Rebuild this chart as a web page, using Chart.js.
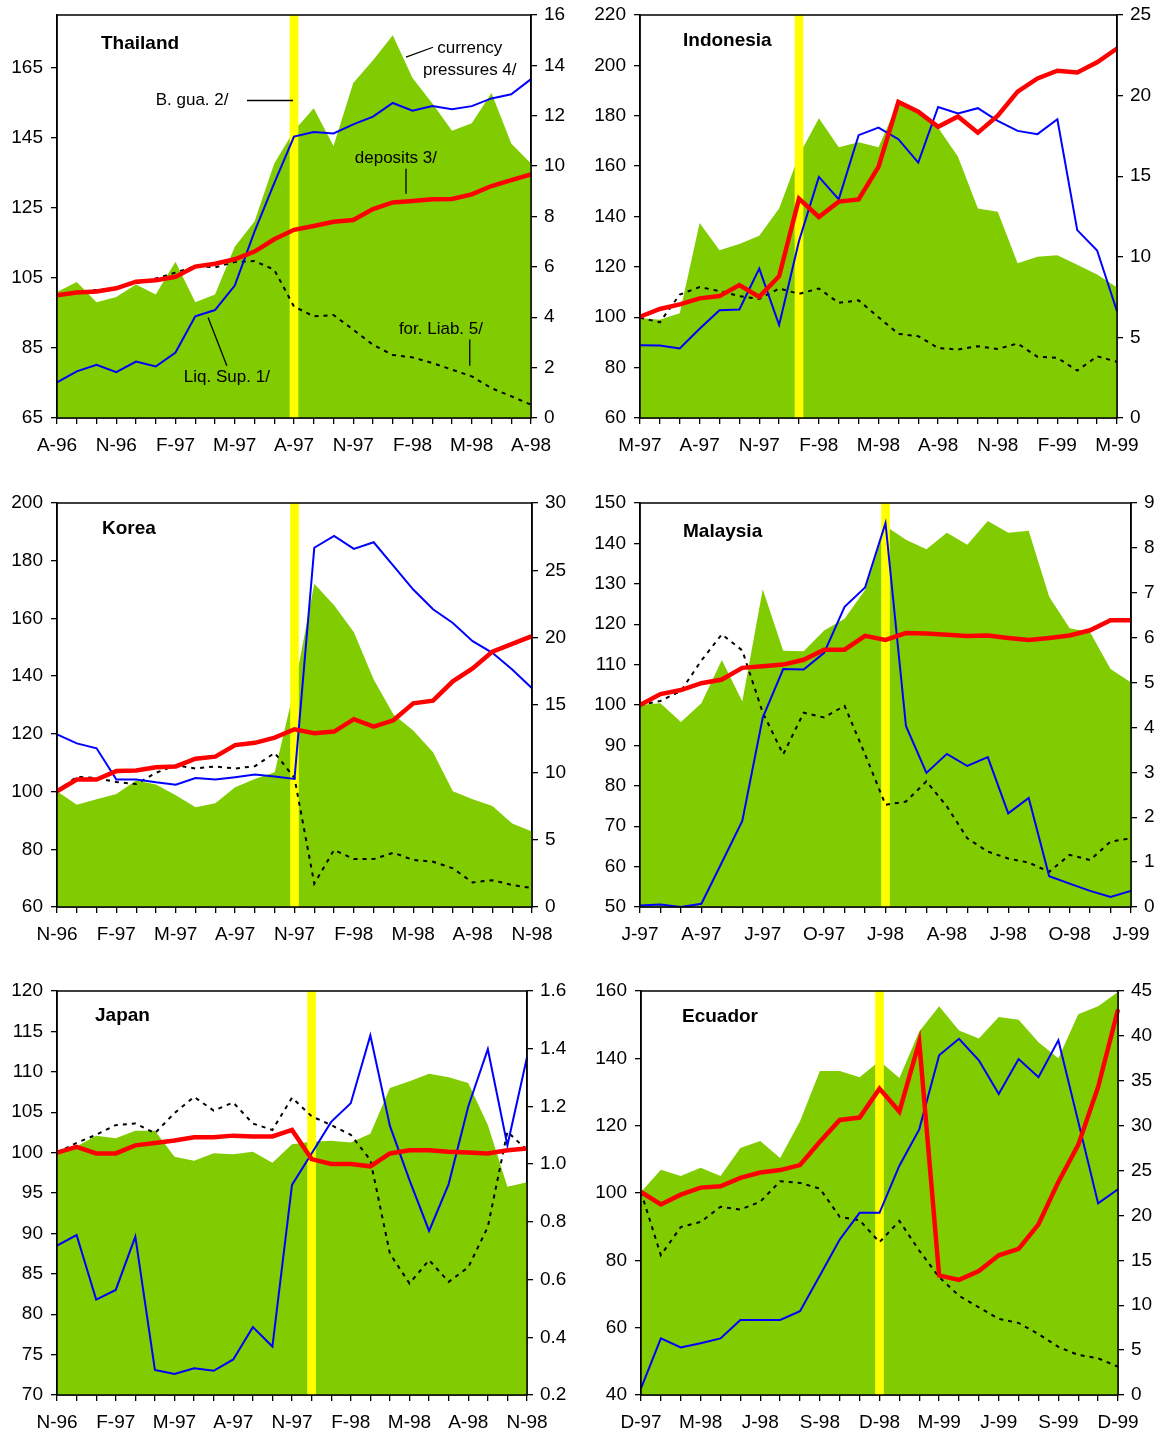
<!DOCTYPE html>
<html>
<head>
<meta charset="utf-8">
<script src="https://cdn.jsdelivr.net/npm/chart.js@4.4.1/dist/chart.umd.min.js"></script>
<style>
  body { margin: 0; background: #fff; }
  #page { position: relative; width: 1164px; height: 1435px; }
  canvas { position: absolute; }
</style>
</head>
<body>
<div id="page">
  <canvas id="thailand" width="582" height="488" style="left:0;top:0"></canvas>
  <canvas id="indonesia" width="582" height="488" style="left:582px;top:0"></canvas>
  <canvas id="korea" width="582" height="488" style="left:0;top:488px"></canvas>
  <canvas id="malaysia" width="582" height="488" style="left:582px;top:488px"></canvas>
  <canvas id="japan" width="582" height="459" style="left:0;top:976px"></canvas>
  <canvas id="ecuador" width="582" height="459" style="left:582px;top:976px"></canvas>
</div>
<script>
// ---- Thailand ----
const thaiTicks = ['A-96', 'N-96', 'F-97', 'M-97', 'A-97', 'N-97', 'F-98', 'M-98', 'A-98'];
const thaiPressure = [5.0, 5.4, 4.6, 4.8, 5.3, 4.9, 6.2, 4.6, 4.9, 6.8, 7.8, 10.1, 11.4, 12.3, 10.8, 13.3, 14.2, 15.2, 13.5, 12.5, 11.4, 11.7, 12.9, 10.9, 10.1];
const thaiLiqSup = [75.2, 78.3, 80.2, 78.1, 81.1, 79.7, 83.7, 94.0, 95.8, 102.8, 118.2, 132.0, 145.3, 146.6, 146.2, 148.8, 151.0, 154.9, 152.7, 154.0, 153.1, 154.0, 156.2, 157.4, 161.7];
const thaiDeposits = [100.0, 100.8, 101.1, 102.0, 103.9, 104.3, 105.3, 108.2, 109.0, 110.3, 112.5, 116.0, 118.7, 119.8, 121.0, 121.5, 124.6, 126.5, 126.9, 127.4, 127.5, 128.8, 131.2, 132.9, 134.5];
const thaiForLiab = [100.0, 101.0, 101.5, 102.0, 103.5, 104.8, 106.5, 108.3, 108.0, 109.5, 109.8, 107.3, 96.8, 94.0, 94.4, 90.2, 85.9, 83.0, 82.3, 80.7, 78.8, 76.9, 73.5, 71.2, 68.8];
const thaiCrisis = 12;
const thaiLeft = [65, 85, 105, 125, 145, 165];
const thaiRight = [0, 2, 4, 6, 8, 10, 12, 14, 16];

// ---- Indonesia ----
const indoTicks = ['M-97', 'A-97', 'N-97', 'F-98', 'M-98', 'A-98', 'N-98', 'F-99', 'M-99'];
const indoPressure = [6.2, 6.1, 6.5, 12.1, 10.4, 10.8, 11.3, 13.0, 16.3, 18.6, 16.8, 17.1, 16.8, 19.6, 18.9, 18.0, 16.2, 13.0, 12.8, 9.6, 10.0, 10.1, 9.5, 8.9, 8.1];
const indoLiqSup = [88.9, 88.8, 87.6, 95.4, 102.8, 103.1, 119.3, 96.9, 130.3, 155.7, 146.8, 172.3, 175.3, 170.7, 161.4, 183.5, 180.9, 183.0, 178.0, 174.0, 172.7, 178.6, 134.6, 126.5, 102.4];
const indoDeposits = [100.2, 103.3, 105.1, 107.5, 108.4, 112.8, 108.1, 116.3, 147.1, 139.8, 145.9, 146.8, 159.7, 185.5, 181.6, 175.6, 179.7, 173.3, 180.0, 189.6, 194.8, 197.9, 197.2, 201.2, 206.7];
const indoForLiab = [99.8, 98.0, 109.0, 112.0, 110.4, 108.4, 107.3, 111.4, 109.3, 111.4, 105.7, 106.7, 100.0, 93.4, 92.5, 87.8, 87.2, 88.5, 87.4, 89.6, 84.3, 83.9, 78.8, 84.5, 82.3];
const indoCrisis = 8;
const indoLeft = [60, 80, 100, 120, 140, 160, 180, 200, 220];
const indoRight = [0, 5, 10, 15, 20, 25];

// ---- Korea ----
const koreaTicks = ['N-96', 'F-97', 'M-97', 'A-97', 'N-97', 'F-98', 'M-98', 'A-98', 'N-98'];
const koreaPressure = [8.6, 7.6, 8.0, 8.4, 9.4, 9.1, 8.3, 7.4, 7.7, 8.9, 9.5, 10.0, 16.3, 24.0, 22.4, 20.4, 16.9, 14.3, 13.1, 11.5, 8.6, 8.0, 7.5, 6.2, 5.6];
const koreaLiqSup = [119.8, 116.7, 115.0, 104.2, 104.2, 103.2, 102.4, 104.7, 104.2, 105.0, 105.9, 105.2, 104.4, 184.5, 188.6, 184.1, 186.4, 178.2, 170.0, 163.2, 158.4, 152.1, 148.1, 142.3, 135.8];
const koreaDeposits = [100.1, 104.2, 104.2, 107.1, 107.3, 108.4, 108.7, 111.4, 112.1, 116.1, 116.9, 118.7, 121.6, 120.2, 120.8, 125.1, 122.5, 124.7, 130.6, 131.5, 138.2, 142.7, 148.5, 151.2, 153.9];
const koreaForLiab = [100.1, 105.1, 104.7, 103.3, 102.6, 106.5, 109.1, 108.0, 108.7, 108.0, 108.8, 113.4, 104.7, 68.1, 79.8, 76.6, 76.6, 78.8, 76.3, 75.7, 73.4, 68.5, 69.3, 67.6, 66.6];
const koreaCrisis = 12;
const koreaLeft = [60, 80, 100, 120, 140, 160, 180, 200];
const koreaRight = [0, 5, 10, 15, 20, 25, 30];

// ---- Malaysia ----
const malTicks = ['J-97', 'A-97', 'J-97', 'O-97', 'J-98', 'A-98', 'J-98', 'O-98', 'J-99'];
const malPressure = [4.5, 4.54, 4.12, 4.54, 5.5, 4.58, 7.08, 5.71, 5.7, 6.16, 6.42, 7.06, 8.49, 8.18, 7.97, 8.34, 8.07, 8.6, 8.34, 8.38, 6.91, 6.21, 6.12, 5.3, 5.0];
const malLiqSup = [50.4, 50.6, 50.0, 50.8, 61.0, 71.3, 96.9, 108.9, 108.8, 112.9, 124.3, 129.1, 145.0, 94.8, 83.2, 87.9, 84.9, 87.1, 73.2, 77.0, 57.6, 55.8, 54.0, 52.5, 54.0];
const malDeposits = [100.0, 102.7, 103.7, 105.4, 106.3, 109.2, 109.6, 110.0, 111.2, 113.7, 113.7, 117.1, 116.1, 117.8, 117.7, 117.4, 117.1, 117.2, 116.6, 116.1, 116.6, 117.2, 118.5, 121.0, 121.0];
const malForLiab = [100.0, 101.0, 103.5, 111.0, 117.5, 113.5, 98.1, 87.8, 98.1, 96.9, 99.8, 87.8, 75.3, 76.1, 81.1, 74.9, 67.0, 63.7, 62.0, 61.0, 58.7, 62.9, 61.6, 66.2, 67.0];
const malCrisis = 12;
const malLeft = [50, 60, 70, 80, 90, 100, 110, 120, 130, 140, 150];
const malRight = [0, 1, 2, 3, 4, 5, 6, 7, 8, 9];

// ---- Japan ----
const japanTicks = ['N-96', 'F-97', 'M-97', 'A-97', 'N-97', 'F-98', 'M-98', 'A-98', 'N-98'];
const japanPressure = [1.043, 1.061, 1.098, 1.09, 1.116, 1.116, 1.026, 1.012, 1.038, 1.034, 1.043, 1.005, 1.069, 1.078, 1.081, 1.075, 1.105, 1.264, 1.287, 1.313, 1.301, 1.281, 1.136, 0.922, 0.937];
const japanLiqSup = [88.5, 89.8, 81.8, 83.0, 89.6, 73.1, 72.6, 73.3, 73.0, 74.4, 78.4, 76.0, 96.0, 99.9, 103.8, 106.1, 114.5, 103.3, 96.6, 90.3, 96.1, 105.7, 112.8, 100.9, 111.8];
const japanDeposits = [100.0, 100.7, 99.9, 99.9, 100.9, 101.2, 101.5, 101.9, 101.9, 102.1, 102.0, 102.0, 102.8, 99.2, 98.6, 98.6, 98.3, 99.9, 100.3, 100.3, 100.1, 100.0, 99.9, 100.3, 100.5];
const japanForLiab = [100.0, 101.2, 102.2, 103.4, 103.6, 102.4, 104.9, 106.9, 105.2, 106.2, 103.6, 102.8, 106.8, 104.5, 103.4, 102.2, 99.1, 87.5, 83.8, 86.7, 84.0, 85.8, 90.8, 102.6, 100.3];
const japanCrisis = 13;
const japanLeft = [70, 75, 80, 85, 90, 95, 100, 105, 110, 115, 120];
const japanRight = [0.2, 0.4, 0.6, 0.8, 1.0, 1.2, 1.4, 1.6];

// ---- Ecuador ----
const ecuTicks = ['D-97', 'M-98', 'J-98', 'S-98', 'D-98', 'M-99', 'J-99', 'S-99', 'D-99'];
const ecuPressure = [22.6, 25.1, 24.4, 25.3, 24.4, 27.5, 28.3, 26.4, 30.5, 36.1, 36.1, 35.4, 37.2, 35.3, 40.5, 43.3, 40.6, 39.7, 42.1, 41.8, 39.3, 37.5, 42.4, 43.3, 44.9];
const ecuLiqSup = [42.0, 56.8, 54.1, 55.4, 56.8, 62.3, 62.3, 62.3, 64.9, 75.5, 86.2, 94.1, 94.1, 108.1, 118.9, 140.9, 145.8, 139.4, 129.4, 139.8, 134.4, 145.4, 121.2, 96.9, 101.1];
const ecuDeposits = [100.3, 96.6, 99.5, 101.6, 102.0, 104.5, 106.1, 106.8, 108.3, 115.2, 121.7, 122.4, 131.0, 124.2, 144.9, 75.5, 74.2, 76.8, 81.5, 83.4, 90.7, 103.3, 114.3, 131.5, 154.5];
const ecuForLiab = [100.3, 81.5, 89.9, 91.4, 95.9, 95.1, 97.4, 103.5, 103.0, 101.3, 92.9, 91.9, 85.4, 91.7, 82.9, 75.0, 69.5, 66.0, 62.6, 61.4, 58.1, 54.3, 51.9, 50.9, 48.4];
const ecuCrisis = 12;
const ecuLeft = [40, 60, 80, 100, 120, 140, 160];
const ecuRight = [0, 5, 10, 15, 20, 25, 30, 35, 40, 45];

const FONT = '"Liberation Sans", Arial, sans-serif';
const GREEN = '#80CC00';

// Builds monthly category labels, a label every third month
function monthLabels(ticks) {
    const out = [];
    for (let i = 0; i < (ticks.length - 1) * 3 + 1; i++) {
        out.push(i % 3 === 0 ? ticks[i / 3] : '');
    }
    return out;
}

// Draws the frame, the country name and any text notes
const panelExtras = {
    id: 'panelExtras',
    afterDatasetsDraw(chart, args, opts) {
        const ctx = chart.ctx;
        const a = chart.chartArea;
        ctx.save();
        ctx.strokeStyle = '#000';
        ctx.lineWidth = 1.5;
        ctx.strokeRect(a.left, a.top, a.right - a.left, a.bottom - a.top);
        ctx.fillStyle = '#000';
        ctx.textBaseline = 'middle';
        ctx.font = 'bold 19px ' + FONT;
        ctx.fillText(opts.title, a.left + opts.titleX, a.top + opts.titleY);

        const xs = chart.scales.x;
        const ys = chart.scales.y;
        ctx.font = '17px ' + FONT;
        ctx.textAlign = 'center';
        (opts.notes || []).forEach(n => {
            ctx.fillText(n.text, xs.getPixelForValue(n.x), ys.getPixelForValue(n.y));
        });
        ctx.lineWidth = 1.3;
        (opts.leaders || []).forEach(l => {
            ctx.beginPath();
            ctx.moveTo(xs.getPixelForValue(l[0]), ys.getPixelForValue(l[1]));
            ctx.lineTo(xs.getPixelForValue(l[2]), ys.getPixelForValue(l[3]));
            ctx.stroke();
        });
        ctx.restore();
    }
};

function makePanel(id, p) {
    const labels = monthLabels(p.ticks);
    const leftMax = p.leftMax;
    const tickFont = { family: FONT, size: 19 };
    const axisGrid = { drawOnChartArea: false, drawTicks: true, tickLength: 6, color: '#000', lineWidth: 1.3 };

    // fixed axis sizes, no extra room for overhanging labels
    const fitY = w => s => { s.width = w; s.paddingTop = 0; s.paddingBottom = 0; };

    new Chart(document.getElementById(id), {
        type: 'line',
        data: {
            labels: labels,
            datasets: [
                {
                    label: 'currency pressures',
                    data: p.pressure,
                    yAxisID: 'y1',
                    fill: 'start',
                    backgroundColor: GREEN,
                    borderWidth: 0,
                    pointRadius: 0,
                    order: 5
                },
                {
                    type: 'bar',
                    label: 'crisis',
                    data: labels.map((_, i) => i === p.crisis ? leftMax : null),
                    yAxisID: 'y',
                    backgroundColor: '#FFFF00',
                    barThickness: 8,
                    order: 4
                },
                {
                    label: 'for. Liab.',
                    data: p.forLiab,
                    yAxisID: 'y',
                    borderColor: '#000',
                    borderWidth: 2,
                    borderDash: [4, 5],
                    pointRadius: 0,
                    fill: false,
                    order: 3
                },
                {
                    label: 'Liq. Sup.',
                    data: p.liqSup,
                    yAxisID: 'y',
                    borderColor: '#0000FF',
                    borderWidth: 2,
                    pointRadius: 0,
                    fill: false,
                    order: 2
                },
                {
                    label: 'deposits',
                    data: p.deposits,
                    yAxisID: 'y',
                    borderColor: '#FF0000',
                    borderWidth: 4.5,
                    pointRadius: 0,
                    fill: false,
                    order: 1
                }
            ]
        },
        options: {
            responsive: false,
            animation: false,
            events: [],
            layout: { padding: { top: p.box.T, left: 0, right: 0, bottom: 0 } },
            plugins: {
                legend: { display: false },
                tooltip: { enabled: false },
                panelExtras: { title: p.title, titleX: p.box.tx, titleY: p.box.ty, notes: p.notes, leaders: p.leaders }
            },
            scales: {
                x: {
                    offset: false,
                    grid: Object.assign({ offset: false }, axisGrid),
                    border: { color: '#000', width: 1.5 },
                    ticks: { autoSkip: false, maxRotation: 0, color: '#000', font: tickFont, padding: 10 },
                    afterFit: s => { s.height = p.box.B; s.paddingLeft = 0; s.paddingRight = 0; }
                },
                y: {
                    position: 'left',
                    min: p.leftMin,
                    max: leftMax,
                    grid: axisGrid,
                    border: { color: '#000', width: 1.5 },
                    ticks: { color: '#000', font: tickFont, padding: 8 },
                    afterBuildTicks: s => { s.ticks = p.left.map(v => ({ value: v })); },
                    afterFit: fitY(p.box.L)
                },
                y1: {
                    position: 'right',
                    min: p.right[0],
                    max: p.right[p.right.length - 1],
                    grid: axisGrid,
                    border: { color: '#000', width: 1.5 },
                    ticks: {
                        color: '#000', font: tickFont, padding: 7,
                        callback: v => p.rightDecimals ? v.toFixed(1) : v
                    },
                    afterBuildTicks: s => { s.ticks = p.right.map(v => ({ value: v })); },
                    afterFit: fitY(p.box.R)
                }
            }
        },
        plugins: [panelExtras]
    });
}

makePanel('thailand', {
    title: 'Thailand', ticks: thaiTicks, pressure: thaiPressure, liqSup: thaiLiqSup,
    deposits: thaiDeposits, forLiab: thaiForLiab, crisis: thaiCrisis,
    left: thaiLeft, leftMin: 65, leftMax: 180, right: thaiRight,
    box: { L: 57, R: 51, T: 15, B: 70, tx: 44, ty: 29 },
    notes: [
        { text: 'currency', x: 20.9, y: 170.5 },
        { text: 'pressures 4/', x: 20.9, y: 164.2 },
        { text: 'B. gua. 2/', x: 6.84, y: 155.6 },
        { text: 'deposits 3/', x: 17.16, y: 139 },
        { text: 'Liq. Sup. 1/', x: 8.6, y: 76.5 },
        { text: 'for. Liab. 5/', x: 19.44, y: 90.2 }
    ],
    leaders: [
        [17.67, 168, 19.04, 170.8],
        [9.62, 155.6, 11.95, 155.6],
        [17.67, 136.1, 17.67, 129],
        [7.65, 93.7, 8.6, 79.9],
        [20.9, 87.4, 20.9, 79.9]
    ]
});

makePanel('indonesia', {
    title: 'Indonesia', ticks: indoTicks, pressure: indoPressure, liqSup: indoLiqSup,
    deposits: indoDeposits, forLiab: indoForLiab, crisis: indoCrisis,
    left: indoLeft, leftMin: 60, leftMax: 220, right: indoRight,
    box: { L: 58, R: 47, T: 15, B: 70, tx: 43, ty: 26 }
});

makePanel('korea', {
    title: 'Korea', ticks: koreaTicks, pressure: koreaPressure, liqSup: koreaLiqSup,
    deposits: koreaDeposits, forLiab: koreaForLiab, crisis: koreaCrisis,
    left: koreaLeft, leftMin: 60, leftMax: 200, right: koreaRight,
    box: { L: 57, R: 50, T: 15, B: 69, tx: 45, ty: 26 }
});

makePanel('malaysia', {
    title: 'Malaysia', ticks: malTicks, pressure: malPressure, liqSup: malLiqSup,
    deposits: malDeposits, forLiab: malForLiab, crisis: malCrisis,
    left: malLeft, leftMin: 50, leftMax: 150, right: malRight,
    box: { L: 58, R: 33, T: 15, B: 69, tx: 43, ty: 29 }
});

makePanel('japan', {
    title: 'Japan', ticks: japanTicks, pressure: japanPressure, liqSup: japanLiqSup,
    deposits: japanDeposits, forLiab: japanForLiab, crisis: japanCrisis,
    left: japanLeft, leftMin: 70, leftMax: 120, right: japanRight, rightDecimals: true,
    box: { L: 57, R: 55, T: 15, B: 40, tx: 38, ty: 25 }
});

makePanel('ecuador', {
    title: 'Ecuador', ticks: ecuTicks, pressure: ecuPressure, liqSup: ecuLiqSup,
    deposits: ecuDeposits, forLiab: ecuForLiab, crisis: ecuCrisis,
    left: ecuLeft, leftMin: 40, leftMax: 160, right: ecuRight,
    box: { L: 59, R: 46, T: 15, B: 40, tx: 41, ty: 26 }
});
</script>
</body>
</html>
